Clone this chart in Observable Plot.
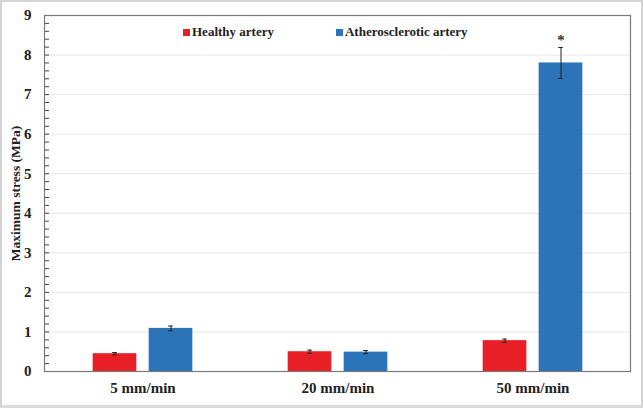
<!DOCTYPE html>
<html>
<head>
<meta charset="utf-8">
<script src="https://cdn.jsdelivr.net/npm/d3@7"></script>
<script src="https://cdn.jsdelivr.net/npm/@observablehq/plot@0.6"></script>
<style>
  html, body { margin: 0; padding: 0; background: #fff; }
  #wrap { position: relative; width: 643px; height: 408px; overflow: hidden; background: #fff; }
  #wrap svg { position: absolute; left: 0; top: 0; }
  #wrap svg text { font-family: "Liberation Serif", "Times New Roman", serif !important; }
  #border { position: absolute; left: 0; top: 0; width: 643px; height: 408px; box-sizing: border-box;
            border: 2px solid #d4d4d4; border-bottom: 3px solid #dcdcdc; pointer-events: none; }
  #legend { position: absolute; top: 24px; left: 183px; display: flex; gap: 0; align-items: center;
            font: bold 13px "Liberation Serif", "Times New Roman", serif; color: #222; }
  .item { display: flex; align-items: center; }
  .sw { width: 7px; height: 7px; margin-right: 2px; display: inline-block; }
</style>
</head>
<body>
<div id="wrap"><div id="legend"></div><div id="border"></div></div>
<script>
const categories = ["5 mm/min", "20 mm/min", "50 mm/min"];
const seriesNames = ["Healthy artery", "Atherosclerotic artery"];
const healthy = [0.45, 0.50, 0.78];
const healthyErr = [0.03, 0.04, 0.04];
const athero = [1.09, 0.49, 7.80];
const atheroErr = [0.06, 0.04, 0.39];
const yTicks = [0, 1, 2, 3, 4, 5, 6, 7, 8, 9];
const yTitle = "Maximum stress (MPa)";
const colors = ["#E81F27", "#2B74B8"];
const starred = [{rate: "50 mm/min", series: "Atherosclerotic artery"}];

const W = 643, H = 408, mL = 44, mR = 13, mT = 15, mB = 37;
const bw = (W - mL - mR) / categories.length;
const offsets = {"Healthy artery": -28, "Atherosclerotic artery": 28};

const rows = [];
categories.forEach((c, i) => {
  rows.push({rate: c, series: seriesNames[0], value: healthy[i], err: healthyErr[i]});
  rows.push({rate: c, series: seriesNames[1], value: athero[i], err: atheroErr[i]});
});
const hRows = rows.filter(d => d.series === seriesNames[0]);
const aRows = rows.filter(d => d.series === seriesNames[1]);
const barW = 44, capW = 5;
const half = bw / 2;
const insetsFor = (off, w) => ({insetLeft: half + off - w / 2, insetRight: half - off - w / 2});
const findRow = d => rows.find(r => r.rate === d.rate && r.series === d.series);

const fontSerif = "Liberation Serif";

const marks = [
  Plot.gridY(yTicks, {stroke: "#e6e6e6", strokeOpacity: 1}),
  Plot.barY(hRows, {x: "rate", y: "value", fill: d => d.series, ...insetsFor(offsets[seriesNames[0]], barW)}),
  Plot.barY(aRows, {x: "rate", y: "value", fill: d => d.series, ...insetsFor(offsets[seriesNames[1]], barW)}),
];
for (const [sub, name] of [[hRows, seriesNames[0]], [aRows, seriesNames[1]]]) {
  const off = offsets[name];
  marks.push(Plot.ruleX(sub, {x: "rate", y1: d => d.value - d.err, y2: d => d.value + d.err, dx: off, stroke: "#222", strokeWidth: 1}));
  marks.push(Plot.tickY(sub, {x: "rate", y: d => d.value + d.err, stroke: "#222", ...insetsFor(off, capW)}));
  marks.push(Plot.tickY(sub, {x: "rate", y: d => d.value - d.err, stroke: "#222", ...insetsFor(off, capW)}));
}
marks.push(Plot.text(starred, {
  x: "rate",
  y: d => findRow(d).value + findRow(d).err,
  text: () => "*", dx: offsets["Atherosclerotic artery"], dy: -3, lineAnchor: "bottom",
  fontSize: 15, fontWeight: "bold", fontFamily: fontSerif, fill: "#333"
}));
marks.push(Plot.axisY(d3.range(0, 9.001, 0.2).map(v => +v.toFixed(1)), {tickSize: -5, text: null, stroke: "#444", label: null}));
marks.push(Plot.axisY(yTicks, {tickSize: 0, tickPadding: 13, fontSize: 15, fontWeight: "bold", fontFamily: fontSerif, fill: "#222", label: null}));
marks.push(Plot.axisX({tickSize: 0, tickPadding: 11, fontSize: 15, fontWeight: "bold", fontFamily: fontSerif, fill: "#222", label: null}));
marks.push(Plot.text([yTitle], {text: d => d, frameAnchor: "left", textAnchor: "middle", lineAnchor: "middle", rotate: -90, dx: -29,
  fontSize: 13.5, fontWeight: "bold", fontFamily: fontSerif, fill: "#222"}));
marks.push(Plot.frame({stroke: "#7a7a7a", strokeWidth: 1.2}));

const chart = Plot.plot({
  width: W, height: H,
  marginLeft: mL, marginRight: mR, marginTop: mT, marginBottom: mB,
  style: {background: "transparent", overflow: "visible"},
  x: {domain: categories, padding: 0, label: null},
  y: {domain: [0, 9], label: null},
  color: {domain: seriesNames, range: colors},
  marks
});
const wrap = document.getElementById("wrap");
wrap.insertBefore(chart, wrap.firstChild);

const legend = document.getElementById("legend");
seriesNames.forEach((s, i) => {
  const item = document.createElement("div");
  item.className = "item";
  if (i > 0) item.style.marginLeft = "62px";
  const sw = document.createElement("span");
  sw.className = "sw";
  sw.style.background = colors[i];
  item.appendChild(sw);
  item.appendChild(document.createTextNode(s));
  legend.appendChild(item);
});
</script>
</body>
</html>
